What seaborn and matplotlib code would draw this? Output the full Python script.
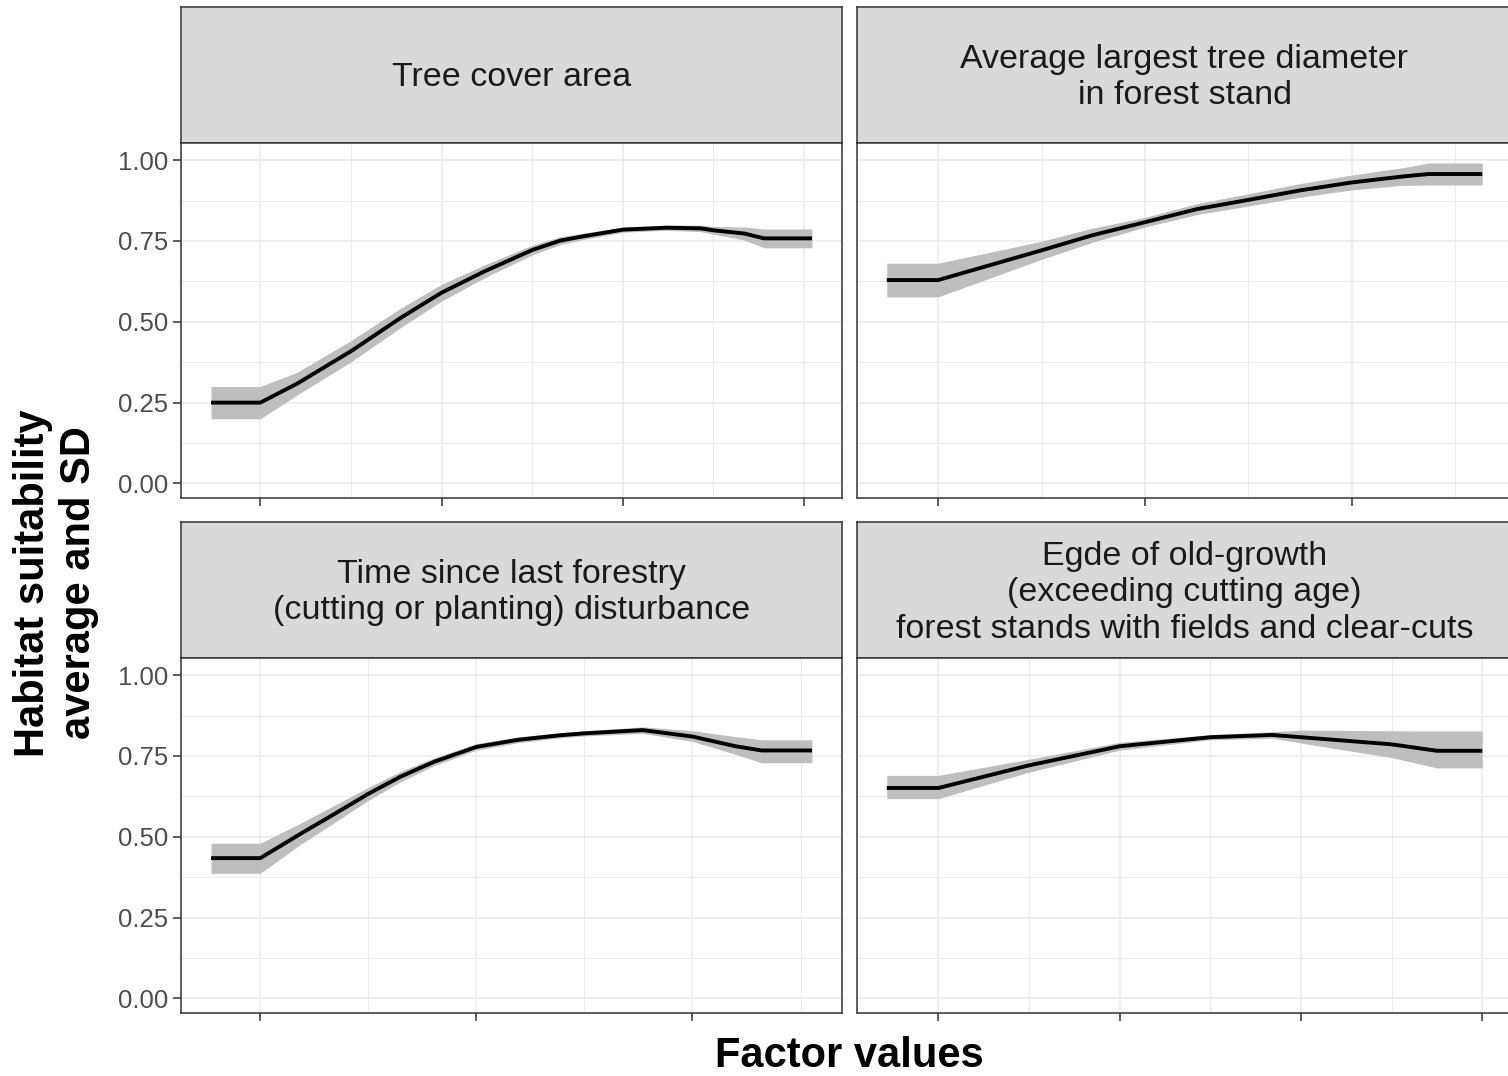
import numpy as np
import pandas as pd
import matplotlib
matplotlib.use("Agg")
import matplotlib.pyplot as plt
import seaborn as sns
from matplotlib.ticker import FixedLocator, NullFormatter

# panel titles (strip labels)
titles = [
    "Tree cover area",
    "Average largest tree diameter\nin forest stand",
    "Time since last forestry\n(cutting or planting) disturbance",
    "Egde of old-growth\n(exceeding cutting age)\nforest stands with fields and clear-cuts",
]

# tree cover area
tc_x = [-0.272, 0.0, 0.204, 0.5, 0.774, 1.0, 1.237, 1.5, 1.654, 1.778, 2.0, 2.24, 2.43, 2.5, 2.67, 2.78, 3.044]
tc_y = [0.25, 0.25, 0.309, 0.409, 0.512, 0.59, 0.656, 0.722, 0.751, 0.764, 0.785, 0.791, 0.789, 0.783, 0.773, 0.758, 0.758]
tc_lo = [0.20, 0.20, 0.274, 0.376, 0.482, 0.564, 0.636, 0.707, 0.739, 0.754, 0.777, 0.783, 0.779, 0.771, 0.753, 0.729, 0.729]
tc_hi = [0.30, 0.30, 0.344, 0.442, 0.542, 0.616, 0.676, 0.737, 0.763, 0.774, 0.793, 0.799, 0.799, 0.795, 0.793, 0.787, 0.787]

# average largest tree diameter
td_x = [-0.248, 0.0, 0.5, 0.742, 1.0, 1.254, 1.5, 1.746, 2.0, 2.24, 2.37, 2.63]
td_y = [0.629, 0.629, 0.721, 0.767, 0.808, 0.849, 0.877, 0.906, 0.931, 0.949, 0.957, 0.957]
td_lo = [0.577, 0.577, 0.693, 0.745, 0.793, 0.832, 0.858, 0.885, 0.908, 0.922, 0.923, 0.923]
td_hi = [0.681, 0.681, 0.749, 0.789, 0.823, 0.866, 0.896, 0.927, 0.954, 0.976, 0.991, 0.991]

# time since last forestry disturbance
ts_x = [-0.228, 0.0, 0.183, 0.339, 0.5, 0.649, 0.804, 1.0, 1.193, 1.387, 1.5, 1.77, 2.0, 2.2, 2.32, 2.553]
ts_y = [0.434, 0.434, 0.508, 0.569, 0.633, 0.686, 0.732, 0.778, 0.80, 0.814, 0.82, 0.83, 0.81, 0.78, 0.767, 0.767]
ts_lo = [0.387, 0.387, 0.475, 0.542, 0.613, 0.670, 0.72, 0.768, 0.791, 0.806, 0.812, 0.82, 0.795, 0.755, 0.729, 0.729]
ts_hi = [0.48, 0.48, 0.541, 0.596, 0.653, 0.702, 0.744, 0.788, 0.809, 0.822, 0.828, 0.84, 0.828, 0.81, 0.80, 0.80]

# edge of old-growth
eg_x = [-0.285, 0.0, 0.5, 1.0, 1.5, 1.84, 2.0, 2.5, 2.75, 3.0]
eg_y = [0.651, 0.651, 0.721, 0.78, 0.808, 0.815, 0.808, 0.786, 0.766, 0.766]
eg_lo = [0.618, 0.618, 0.70, 0.768, 0.80, 0.805, 0.79, 0.745, 0.713, 0.713]
eg_hi = [0.69, 0.69, 0.74, 0.792, 0.816, 0.825, 0.83, 0.828, 0.827, 0.827]

n_major = [4, 3, 3, 4]
y_ticks = [0.0, 0.25, 0.5, 0.75, 1.0]
y_labels = ["0.00", "0.25", "0.50", "0.75", "1.00"]

panels = [
    (tc_x, tc_y, tc_lo, tc_hi),
    (td_x, td_y, td_lo, td_hi),
    (ts_x, ts_y, ts_lo, ts_hi),
    (eg_x, eg_y, eg_lo, eg_hi),
]

sns.set_theme(style="white")
plt.rcParams['font.family'] = ['Liberation Sans', 'DejaVu Sans']

W, H = 1508, 1076
fig = plt.figure(figsize=(W / 100, H / 100), dpi=100)


def box(x0, y0, x1, y1):
    return [x0 / W, 1 - y1 / H, (x1 - x0) / W, (y1 - y0) / H]


cols = [(181, 842), (857, 1512)]
rows = [(7, 143, 498), (522, 658, 1013)]
edge = '#333333'

for i, (x, y, lo, hi) in enumerate(panels):
    r, c = divmod(i, 2)
    x0, x1 = cols[c]
    ys, yp, yb = rows[r]

    # strip
    st = fig.add_axes(box(x0, ys, x1, yp))
    st.set_facecolor('#D9D9D9')
    st.set_xticks([])
    st.set_yticks([])
    for s in st.spines.values():
        s.set_color(edge)
        s.set_linewidth(1.1)
    st.text(0.5, 0.48, titles[i], ha='center', va='center', fontsize=24.5,
            color='#1A1A1A', linespacing=1.22, transform=st.transAxes)

    # panel
    ax = fig.add_axes(box(x0, yp, x1, yb))
    df = pd.DataFrame({'x': x, 'y': y, 'lo': lo, 'hi': hi})
    ax.fill_between(df['x'], df['lo'], df['hi'], color='#BEBEBE', lw=0, zorder=2)
    sns.lineplot(data=df, x='x', y='y', ax=ax, color='black', linewidth=2.8,
                 zorder=3, sort=False, solid_capstyle='butt', solid_joinstyle='round')

    xmin, xmax = min(x), max(x)
    pad = 0.05 * (xmax - xmin)
    ax.set_xlim(xmin - pad, xmax + pad)
    ax.set_ylim(-0.045, 1.053)

    ax.xaxis.set_major_locator(FixedLocator(list(range(n_major[i]))))
    ax.xaxis.set_minor_locator(FixedLocator([0.5, 1.5, 2.5]))
    ax.xaxis.set_major_formatter(NullFormatter())
    ax.yaxis.set_major_locator(FixedLocator(y_ticks))
    ax.yaxis.set_minor_locator(FixedLocator([0.125, 0.375, 0.625, 0.875]))
    if c == 0:
        ax.set_yticklabels(y_labels)
        ax.tick_params(axis='y', which='major', left=True, length=5.5, width=1.1,
                       color=edge, labelsize=18.5, labelcolor='#4D4D4D', pad=4)
    else:
        ax.tick_params(axis='y', which='major', left=False, labelleft=False)
    ax.tick_params(axis='x', which='major', bottom=True, length=5.5, width=1.1,
                   color=edge)
    ax.tick_params(which='minor', length=0)

    ax.grid(which='major', color='#EBEBEB', lw=1.1)
    ax.grid(which='minor', color='#EBEBEB', lw=0.7)
    ax.set_axisbelow(True)
    for s in ax.spines.values():
        s.set_color(edge)
        s.set_linewidth(1.1)
    ax.set_xlabel('')
    ax.set_ylabel('')

fig.text(849 / W, 1 - 1056 / H, "Factor values", ha='center', va='center',
         fontsize=30, fontweight='bold', color='black')
fig.text(56 / W, 1 - 583 / H, "Habitat suitability\naverage and SD", ha='center',
         va='center', rotation=90, fontsize=30, fontweight='bold', color='black',
         linespacing=1.2, multialignment='center')

fig.savefig('out.png', dpi=100)
